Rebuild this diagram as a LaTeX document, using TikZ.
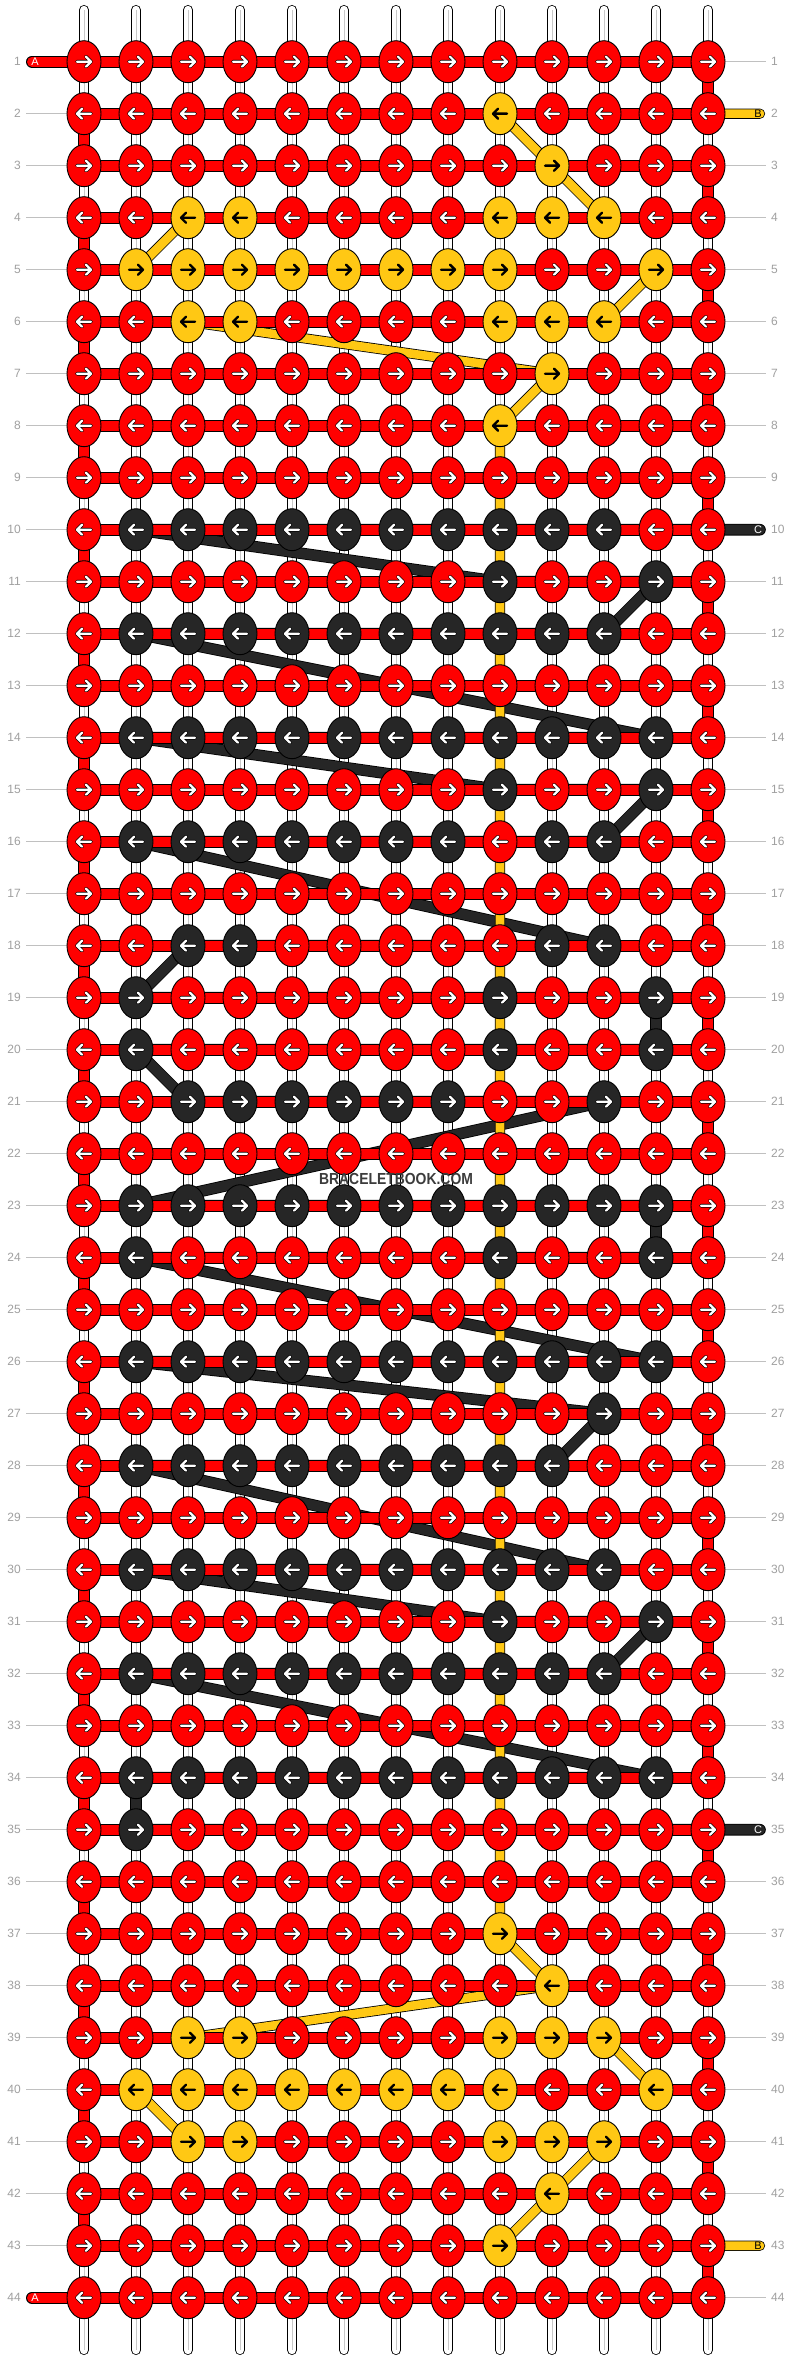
\documentclass[tikz,border=0pt]{standalone}
\usepackage{fontspec}
\setmainfont{Liberation Sans}
\usetikzlibrary{calc,shapes.geometric}
\definecolor{kred}{HTML}{FF0000}
\definecolor{kyel}{HTML}{FFC814}
\definecolor{kblk}{HTML}{262626}
\definecolor{numgray}{HTML}{A0A0A0}
\definecolor{guidegray}{HTML}{C0C0C0}
\definecolor{warpgray}{HTML}{C8C8C8}
\definecolor{wmgray}{HTML}{3C3C3C}
\tikzset{
 warp/.style={draw=black, line width=0.8pt, double=white, double distance=8.4pt, line cap=round},
 warpmid/.style={draw=warpgray, line width=1pt},
 strA/.style={draw=black, line width=1pt, double=kred, double distance=10pt, line cap=round, line join=round},
 strB/.style={draw=black, line width=0.8pt, double=kyel, double distance=8.6pt, line cap=round, line join=round},
 strC/.style={draw=black, line width=0.8pt, double=kblk, double distance=10pt, line cap=round, line join=round},
 knot/.style={ellipse, draw=black, line width=0.9pt, minimum width=34pt, minimum height=42pt, inner sep=0pt},
 knotr/.style={knot, fill=kred},
 knoty/.style={knot, fill=kyel},
 knotk/.style={knot, fill=kblk},
 arrw/.style={draw=white, line width=2.2pt, line cap=round, line join=round, preaction={draw=black, line width=3.6pt, line cap=round, line join=round}},
 arrb/.style={draw=black, line width=2.4pt, line cap=round, line join=round},
 arrr/.style={arrw}, arrk/.style={arrw}, arry/.style={arrb},
 num/.style={text=numgray, font=\fontsize{12}{14}\selectfont, inner sep=0pt},
 guide/.style={draw=guidegray, line width=1pt},
 tag/.style={font=\fontsize{11}{13}\selectfont, inner sep=0pt},
}
\begin{document}
\begin{tikzpicture}[x=1pt,y=-1pt]
\useasboundingbox (0,0) rectangle (792,2360);
\fill[white] (0,0) rectangle (792,2360);
% grid coordinates
\foreach \r in {1,...,44} {
  \foreach \c in {1,...,13} {
    \coordinate (p-\r-\c) at ({32+52*\c},{9.7+52*\r});
  }
}
% warp strings
\foreach \c in {1,...,13} {
  \coordinate (wt-\c) at ({32+52*\c},10);
  \coordinate (wb-\c) at ({32+52*\c},2350);
  \draw[warp] (wt-\c) -- (wb-\c);
  \draw[warpmid] (wt-\c) -- (wb-\c);
}
% guide lines
\foreach \r in {2,...,43} {
  \draw[guide] ($(p-\r-1)+(-58,0)$) -- (p-\r-1);
}
\foreach \r in {1,3,4,5,6,7,8,9,11,12,13,14,15,16,17,18,19,20,21,22,23,24,25,26,27,28,29,30,31,32,33,34,36,37,38,39,40,41,42,44} {
  \draw[guide] (p-\r-13) -- ($(p-\r-13)+(58,0)$);
}
% string ends
\coordinate (A-in) at ($(p-1-1)+(-52,0)$);
\coordinate (A-out) at ($(p-44-1)+(-52,0)$);
\coordinate (B-in) at ($(p-2-13)+(52,0)$);
\coordinate (B-out) at ($(p-43-13)+(52,0)$);
\coordinate (C-in) at ($(p-10-13)+(52,0)$);
\coordinate (C-out) at ($(p-35-13)+(52,0)$);
% string C (black)
\draw[strC] (C-in) -- (p-10-11) -- (p-10-2) -- (p-11-9) -- (p-11-12) -- (p-12-11) -- (p-12-2)
 -- (p-14-12) -- (p-14-2) -- (p-15-9) -- (p-15-12) -- (p-16-11) -- (p-16-2) -- (p-18-11) -- (p-18-3)
 -- (p-19-2) -- (p-19-12) -- (p-20-12) -- (p-20-2) -- (p-21-3) -- (p-21-11) -- (p-23-2) -- (p-23-12)
 -- (p-24-12) -- (p-24-2) -- (p-26-12) -- (p-26-2) -- (p-27-11) -- (p-28-10) -- (p-28-2) -- (p-30-11)
 -- (p-30-2) -- (p-31-9) -- (p-31-12) -- (p-32-11) -- (p-32-2) -- (p-34-12) -- (p-34-2) -- (p-35-2) -- (C-out);
% string B (yellow)
\draw[strB] (B-in) -- (p-2-9) -- (p-3-10) -- (p-4-11) -- (p-4-3) -- (p-5-2) -- (p-5-12) -- (p-6-11)
 -- (p-6-3) -- (p-7-10) -- (p-8-9) -- (p-37-9) -- (p-38-10) -- (p-39-3) -- (p-39-11) -- (p-40-12)
 -- (p-40-2) -- (p-41-3) -- (p-41-11) -- (p-42-10) -- (p-43-9) -- (B-out);
% string A (red)
\draw[strA] (A-in) foreach \r [evaluate=\r as \s using int(\r+1)] in {1,3,...,43} {
   -- (p-\r-1) -- (p-\r-13) -- (p-\s-13) -- (p-\s-1) } -- (A-out);
% knots
\foreach \r/\row in {
 1/{r,r,r,r,r,r,r,r,r,r,r,r,r},
 2/{r,r,r,r,r,r,r,r,y,r,r,r,r},
 3/{r,r,r,r,r,r,r,r,r,y,r,r,r},
 4/{r,r,y,y,r,r,r,r,y,y,y,r,r},
 5/{r,y,y,y,y,y,y,y,y,r,r,y,r},
 6/{r,r,y,y,r,r,r,r,y,y,y,r,r},
 7/{r,r,r,r,r,r,r,r,r,y,r,r,r},
 8/{r,r,r,r,r,r,r,r,y,r,r,r,r},
 9/{r,r,r,r,r,r,r,r,r,r,r,r,r},
 10/{r,k,k,k,k,k,k,k,k,k,k,r,r},
 11/{r,r,r,r,r,r,r,r,k,r,r,k,r},
 12/{r,k,k,k,k,k,k,k,k,k,k,r,r},
 13/{r,r,r,r,r,r,r,r,r,r,r,r,r},
 14/{r,k,k,k,k,k,k,k,k,k,k,k,r},
 15/{r,r,r,r,r,r,r,r,k,r,r,k,r},
 16/{r,k,k,k,k,k,k,k,r,k,k,r,r},
 17/{r,r,r,r,r,r,r,r,r,r,r,r,r},
 18/{r,r,k,k,r,r,r,r,r,k,k,r,r},
 19/{r,k,r,r,r,r,r,r,k,r,r,k,r},
 20/{r,k,r,r,r,r,r,r,k,r,r,k,r},
 21/{r,r,k,k,k,k,k,k,r,r,k,r,r},
 22/{r,r,r,r,r,r,r,r,r,r,r,r,r},
 23/{r,k,k,k,k,k,k,k,k,k,k,k,r},
 24/{r,k,r,r,r,r,r,r,k,r,r,k,r},
 25/{r,r,r,r,r,r,r,r,r,r,r,r,r},
 26/{r,k,k,k,k,k,k,k,k,k,k,k,r},
 27/{r,r,r,r,r,r,r,r,r,r,k,r,r},
 28/{r,k,k,k,k,k,k,k,k,k,r,r,r},
 29/{r,r,r,r,r,r,r,r,r,r,r,r,r},
 30/{r,k,k,k,k,k,k,k,k,k,k,r,r},
 31/{r,r,r,r,r,r,r,r,k,r,r,k,r},
 32/{r,k,k,k,k,k,k,k,k,k,k,r,r},
 33/{r,r,r,r,r,r,r,r,r,r,r,r,r},
 34/{r,k,k,k,k,k,k,k,k,k,k,k,r},
 35/{r,k,r,r,r,r,r,r,r,r,r,r,r},
 36/{r,r,r,r,r,r,r,r,r,r,r,r,r},
 37/{r,r,r,r,r,r,r,r,y,r,r,r,r},
 38/{r,r,r,r,r,r,r,r,r,y,r,r,r},
 39/{r,r,y,y,r,r,r,r,y,y,y,r,r},
 40/{r,y,y,y,y,y,y,y,y,r,r,y,r},
 41/{r,r,y,y,r,r,r,r,y,y,y,r,r},
 42/{r,r,r,r,r,r,r,r,r,y,r,r,r},
 43/{r,r,r,r,r,r,r,r,y,r,r,r,r},
 44/{r,r,r,r,r,r,r,r,r,r,r,r,r}} {
  \pgfmathtruncatemacro\d{2*mod(\r,2)-1}
  \foreach \k [count=\c] in \row {
    \node[knot\k] (k-\r-\c) at (p-\r-\c) {};
    \draw[arr\k, shift={(p-\r-\c)}, xscale=\d] (-7,0) -- (7,0) (2,-5) -- (7,0) -- (2,5);
  }
}
% row numbers
\foreach \r in {1,...,44} {
  \node[num, anchor=east] (ln-\r) at (21,{9.7+52*\r}) {\r};
  \node[num, anchor=west] (rn-\r) at (771,{9.7+52*\r}) {\r};
}
% string tags
\node[tag, text=white] (tA1) at ($(p-1-1)+(-49,0)$) {A};
\node[tag, text=white] (tA2) at ($(p-44-1)+(-49,0)$) {A};
\node[tag, text=black] (tB1) at ($(p-2-13)+(50,0)$) {B};
\node[tag, text=black] (tB2) at ($(p-43-13)+(50,0)$) {B};
\node[tag, text=white] (tC1) at ($(p-10-13)+(50,0)$) {C};
\node[tag, text=white] (tC2) at ($(p-35-13)+(50,0)$) {C};
% watermark
\node[font=\bfseries\fontsize{16}{16}\selectfont, text=wmgray, xscale=0.87, inner sep=0pt] (wm) at (396,1179) {BRACELETBOOK.COM};
\end{tikzpicture}
\end{document}
